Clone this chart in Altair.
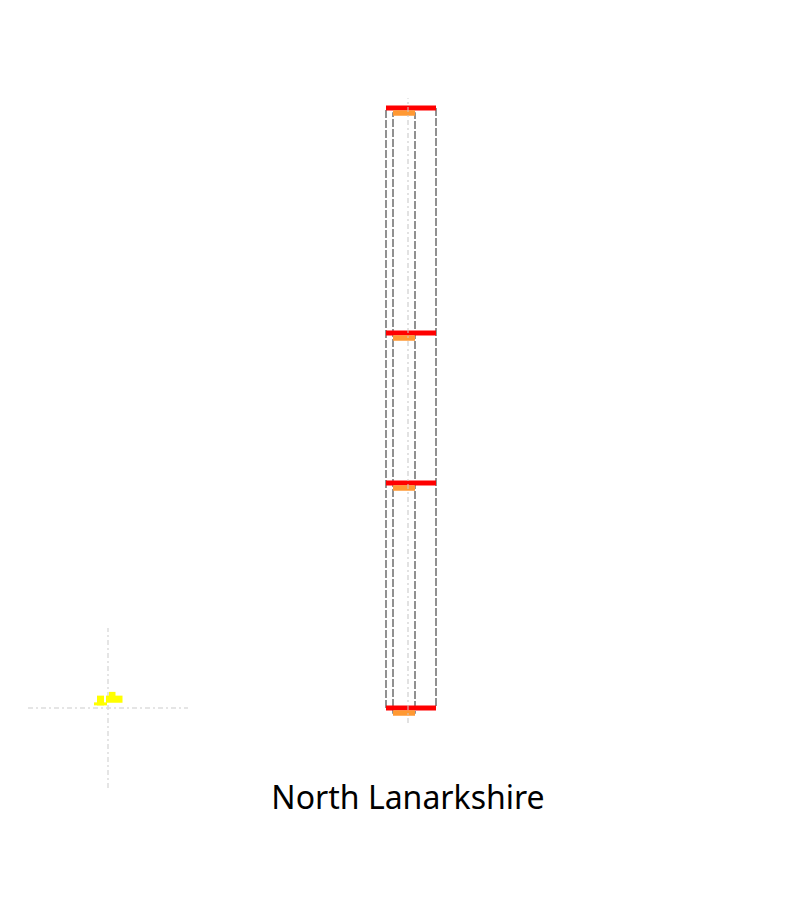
import altair as alt
import pandas as pd

# Data values
levels = [0, 3, 5, 8]                      # red level lines / quantile marks
outer_left, outer_right = 38.6, 43.6       # outer box extent (x units)
inner_left, inner_right = 39.3, 41.5       # inner box extent (x units)
center_x = 40.8
center_lo, center_hi = -0.2, 8.13

# inset glyph (small yellow shape) and crosshair
inset_cx, inset_cy = 10.8, 0.0
inset_half_w, inset_half_h = 8.0, 1.0667
shape_x0 = [9.4, 9.7, 10.6, 10.9]
shape_x1 = [10.7, 10.4, 12.25, 11.55]
shape_y0 = [0.035, 0.035, 0.07, 0.155]
shape_y1 = [0.075, 0.165, 0.165, 0.215]

label = "North Lanarkshire"

xs = alt.Scale(domain=[0, 80], nice=False, zero=False)
ys = alt.Scale(domain=[0, 8], nice=False, zero=False)

lv = pd.DataFrame({"level": levels,
                   "ol": [outer_left] * 4, "or": [outer_right] * 4,
                   "il": [inner_left] * 4, "ir": [inner_right] * 4})
box = pd.DataFrame({"ol": [outer_left], "or": [outer_right],
                    "il": [inner_left], "ir": [inner_right],
                    "lo": [min(levels)], "hi": [max(levels)]})

outer = alt.Chart(box).mark_rect(fill=None, stroke="#6e6e6e", strokeWidth=1.5,
                                 strokeDash=[8, 2]).encode(
    x=alt.X("ol:Q", scale=xs, axis=None), x2="or:Q",
    y=alt.Y("lo:Q", scale=ys, axis=None), y2="hi:Q")
inner = alt.Chart(box).mark_rect(fill=None, stroke="#6e6e6e", strokeWidth=1.5,
                                 strokeDash=[8, 2], yOffset=5, y2Offset=5).encode(
    x=alt.X("il:Q", scale=xs, axis=None), x2="ir:Q",
    y=alt.Y("lo:Q", scale=ys, axis=None), y2="hi:Q")

red = alt.Chart(lv).mark_rule(color="#ff0000", strokeWidth=5).encode(
    x=alt.X("ol:Q", scale=xs, axis=None), x2="or:Q",
    y=alt.Y("level:Q", scale=ys, axis=None))
orange = alt.Chart(lv).mark_rule(color="#ff9933", strokeWidth=5.5, yOffset=5).encode(
    x=alt.X("il:Q", scale=xs, axis=None), x2="ir:Q",
    y=alt.Y("level:Q", scale=ys, axis=None))

cl = pd.DataFrame({"x": [center_x], "lo": [center_lo], "hi": [center_hi]})
center = alt.Chart(cl).mark_rule(color="#c8c8c8", strokeWidth=1.5, strokeOpacity=0.7,
                                 strokeDash=[5, 3, 2, 3]).encode(
    x=alt.X("x:Q", scale=xs, axis=None),
    y=alt.Y("lo:Q", scale=ys, axis=None), y2="hi:Q")

ch = pd.DataFrame({"x": [inset_cx - inset_half_w, inset_cx],
                   "x2": [inset_cx + inset_half_w, inset_cx],
                   "y": [inset_cy, inset_cy - inset_half_h],
                   "y2": [inset_cy, inset_cy + inset_half_h]})
cross = alt.Chart(ch).mark_rule(color="#dddddd", strokeWidth=1.5,
                                strokeDash=[5, 3, 2, 3]).encode(
    x=alt.X("x:Q", scale=xs, axis=None), x2="x2:Q",
    y=alt.Y("y:Q", scale=ys, axis=None), y2="y2:Q")

sh = pd.DataFrame({"x0": shape_x0, "x1": shape_x1, "y0": shape_y0, "y1": shape_y1})
shape = alt.Chart(sh).mark_rect(color="#ffff00").encode(
    x=alt.X("x0:Q", scale=xs, axis=None), x2="x1:Q",
    y=alt.Y("y0:Q", scale=ys, axis=None), y2="y1:Q")

tx = pd.DataFrame({"t": [label], "x": [center_x]})
text = alt.Chart(tx).mark_text(font="Noto Sans", fontSize=32, color="#000000",
                               align="center", baseline="alphabetic").encode(
    x=alt.X("x:Q", scale=xs, axis=None), y=alt.value(701), text="t:N")

chart = alt.layer(outer, inner, red, orange, center, cross, shape, text).properties(
    width=800, height=600, autosize="none",
    padding={"top": 108, "bottom": 192, "left": 0, "right": 0},
    background="white"
).configure_view(stroke=None)

chart.save("out.html", embed_options={"renderer": "svg", "actions": False})
